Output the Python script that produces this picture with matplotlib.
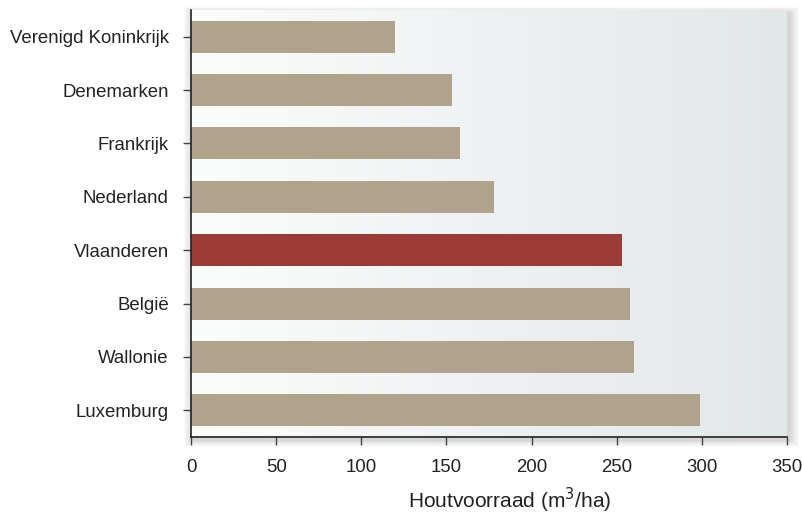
import numpy as np
import matplotlib
matplotlib.use("Agg")
import matplotlib.pyplot as plt

plt.rcParams['font.family'] = ['Liberation Sans', 'DejaVu Sans']

regions = ["Verenigd Koninkrijk", "Denemarken", "Frankrijk", "Nederland",
           "Vlaanderen", "België", "Wallonie", "Luxemburg"]
stock = [120, 153, 158, 178, 253, 258, 260, 299]
highlight = "Vlaanderen"
xticks = [0, 50, 100, 150, 200, 250, 300, 350]

fig = plt.figure(figsize=(8.02, 5.16), dpi=100)
pos = [0.2382, 0.1531, 0.7431, 0.8275]
ax = fig.add_axes(pos)

# soft shadow round the panel
for i in range(8):
    pad = 0.0015 * (i + 1)
    sh = plt.Rectangle((pos[0] - pad + 0.003, pos[1] - pad - 0.006),
                       pos[2] + 2 * pad, pos[3] + 2 * pad,
                       transform=fig.transFigure, color='black', alpha=0.018,
                       zorder=-5, linewidth=0)
    fig.patches.append(sh)

# gradient background, white on the left to grey-blue on the right
grad = np.linspace(0, 1, 256).reshape(1, -1)
cmap = matplotlib.colors.LinearSegmentedColormap.from_list("bg", ["#fbfcfc", "#e2e7e8"])
ax.imshow(grad, extent=[0, 1, 0, 1], transform=ax.transAxes, aspect='auto',
          cmap=cmap, zorder=0)

y = np.arange(len(regions))
colors = ["#9b3b36" if r == highlight else "#b0a28b" for r in regions]
ax.barh(y, stock, height=0.6, color=colors, zorder=2)

ax.set_xlim(0, 350)
ax.set_ylim(len(regions) - 0.5, -0.5)
ax.set_yticks(y)
ax.set_yticklabels(regions, fontsize=13.4, color='#222222')
ax.set_xticks(xticks)
ax.set_xticklabels([str(t) for t in xticks], fontsize=13.4, color='#222222')
ax.set_xlabel("Houtvoorraad (m$^3$/ha)", fontsize=15, color='#222222')
ax.xaxis.set_label_coords(0.535, -0.115)

for s in ['top', 'right']:
    ax.spines[s].set_visible(False)
for s in ['left', 'bottom']:
    ax.spines[s].set_color('#222222')
    ax.spines[s].set_linewidth(1.2)
ax.tick_params(axis='y', length=6, width=1, color='#444444', pad=10)
ax.tick_params(axis='x', length=6, width=1, color='#444444', pad=10)

fig.savefig("out.png", dpi=100)
